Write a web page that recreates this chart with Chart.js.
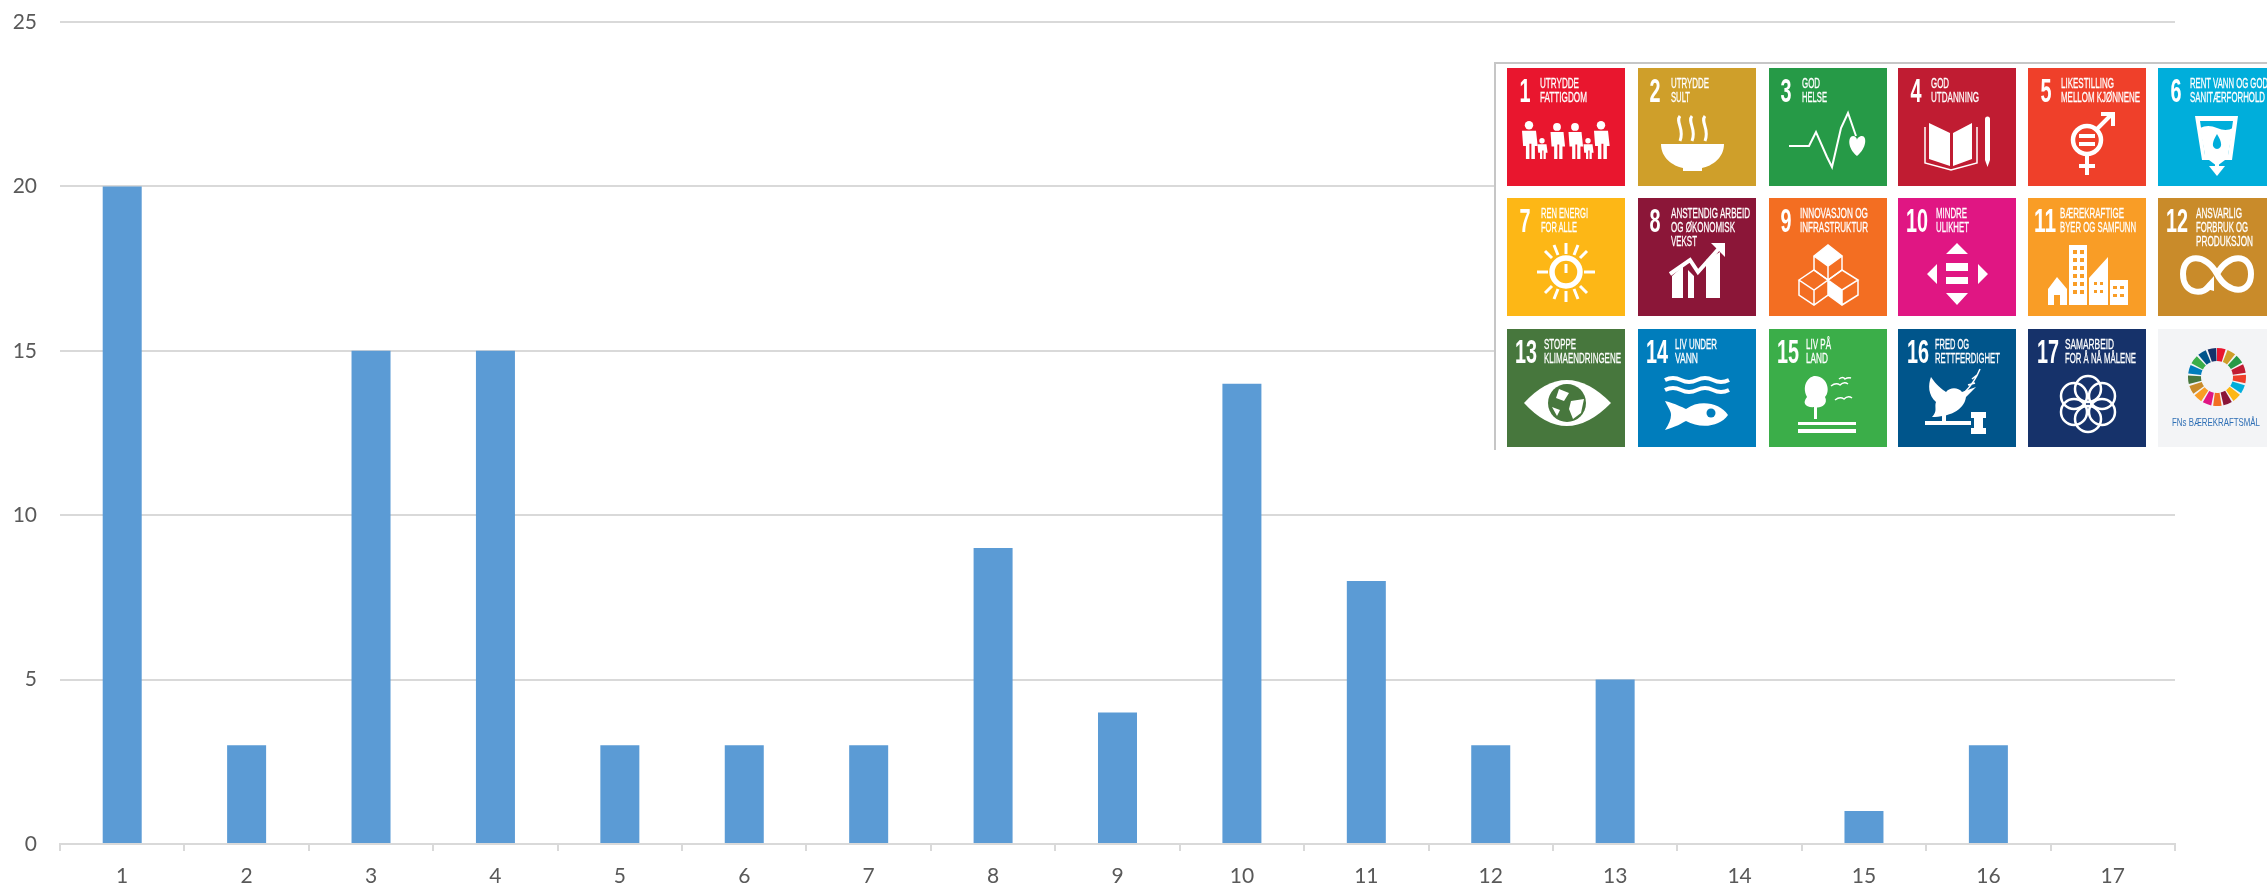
<!DOCTYPE html>
<html>
<head>
<meta charset="UTF-8">
<title>Bærekraftsmål</title>
<script src="https://cdn.jsdelivr.net/npm/chart.js"></script>
<style>
    html, body { margin: 0; padding: 0; background: #fff; overflow: hidden; }
    #wrap { position: relative; width: 2267px; height: 886px; }
    #inset { position: absolute; left: 0; top: 0; }
    #inset text { font-family: 'Liberation Sans Narrow', 'Liberation Sans', sans-serif; fill: #fff; }
</style>
</head>
<body>
<div id="wrap">
    <canvas id="goalsChart" width="2267" height="886"></canvas>
    <svg id="inset" width="2267" height="886" xmlns="http://www.w3.org/2000/svg"></svg>
</div>

<script>
    const categories = ['1', '2', '3', '4', '5', '6', '7', '8', '9', '10', '11', '12', '13', '14', '15', '16', '17'];
    const counts = [20, 3, 15, 15, 3, 3, 3, 9, 4, 14, 8, 3, 5, 0, 1, 3, 0];
    const yTicks = [0, 5, 10, 15, 20, 25];

    // tiles in the picture pasted over the chart
    const tileTitles = [
        ['UTRYDDE', 'FATTIGDOM'], ['UTRYDDE', 'SULT'], ['GOD', 'HELSE'], ['GOD', 'UTDANNING'],
        ['LIKESTILLING', 'MELLOM KJØNNENE'], ['RENT VANN OG GOD', 'SANITÆRFORHOLD'],
        ['REN ENERGI', 'FOR ALLE'], ['ANSTENDIG ARBEID', 'OG ØKONOMISK', 'VEKST'], ['INNOVASJON OG', 'INFRASTRUKTUR'],
        ['MINDRE', 'ULIKHET'], ['BÆREKRAFTIGE', 'BYER OG SAMFUNN'], ['ANSVARLIG', 'FORBRUK OG', 'PRODUKSJON'],
        ['STOPPE', 'KLIMAENDRINGENE'], ['LIV UNDER', 'VANN'], ['LIV PÅ', 'LAND'],
        ['FRED OG', 'RETTFERDIGHET'], ['SAMARBEID', 'FOR Å NÅ MÅLENE']
    ];
    const tileColors = ['#e9192d', '#cf9f2a', '#279a47', '#c01c30', '#ef3f29', '#05aedb', '#fdb713', '#8b1538', '#f36e24',
        '#e01483', '#f99d26', '#c98b2a', '#47773c', '#047dbc', '#3bae49', '#05558b', '#16336a'];
    const numberX = [18, 17, 17, 18, 18, 18, 18, 17, 17, 19, 17, 19, 19, 19, 19, 20, 20];
    const titleX = [33, 33, 33, 33, 33, 32, 34, 33, 31, 38, 32, 38, 37, 37, 37, 37, 37];
    const titleWidths = [[39, 47], [38, 19], [18, 25], [18, 48], [53, 79], [78, 75], [47, 36], [79, 64, 26], [68, 68],
        [31, 33], [64, 76], [46, 52, 57], [32, 77], [42, 23], [25, 22], [34, 65], [49, 71]];
    const colLefts = [1507, 1638, 1769, 1898, 2028, 2158];
    const rowTops = [68, 198, 329];

    const person = (x, top, h, w) => `<circle cx="${x}" cy="${top + w * 0.3}" r="${w * 0.3}"/>` +
        `<path d="M${x - w / 2} ${top + w * 0.7} h${w} l${w * 0.12} ${h * 0.4} h${-w * 0.2} v${h * 0.6 - w * 0.7} h${-w * 0.25} v${-h * 0.4} h${-w * 0.14} v${h * 0.4} h${-w * 0.25} v${-h * 0.6 + w * 0.7} h${-w * 0.2}z"/>`;
    const line = 'fill="none" stroke="#fff"';

    const tileIcons = [
        person(22, 53, 38, 14) + person(35, 70, 21, 9) + person(50, 55, 36, 13) + person(68, 55, 36, 13) + person(81, 70, 21, 9) + person(94, 53, 38, 14),
        `<path d="M23 76H86C86 90 74 98 64 100V103H45V100C35 98 23 90 23 76Z"/><path d="M42 48c-5 6 5 13 0 25M54 48c-5 6 5 13 0 25M67 48c-5 6 5 13 0 25" ${line} stroke-width="3"/>`,
        `<path d="M20 78H40L47 64L58 89L63 99L72 60L79 45L87 68" ${line} stroke-width="2"/><path d="M88 88C78 80 79 68 84 68C86 68 88 70 88 72C88 70 91 68 93 68C98 68 98 80 88 88Z"/>`,
        `<path d="M31 55L52 65V98L31 91ZM74 55L55 65V98L74 91Z"/><path d="M27 59V95L53 102L79 95V59" ${line} stroke-width="1.500"/><path d="M87 51a2.500 2.500 0 0 1 5 0V92L89.500 99L87 92Z"/>`,
        `<circle cx="59" cy="72" r="14" ${line} stroke-width="4.500"/><path d="M51 66H67V70H51ZM51 74H67V78H51Z"/><path d="M59 86V107M51 98H67M69 61L84 46M73 46H85V58" ${line} stroke-width="4"/>`,
        `<path d="M37 48H80L74 92H67L59 98L51 92H44ZM42 53L47 87H70L75 53Z"/><path d="M42 60Q50 56 59 60T75 60L70 87H47Z"/><path d="M59 66C54 74 53 80 59 81C65 80 64 74 59 66Z" fill="#05aedb"/><path d="M59 90V100" ${line} stroke-width="4"/><path d="M51 98H67L59 108Z"/>`,
        `<circle cx="59" cy="74" r="14" ${line} stroke-width="5.500"/><path d="M59 66V75" ${line} stroke-width="3"/><path d="M59 45V56M59 93V104M30 74H41M77 74H88M38 53L45 60M73 88L80 95M38 95L45 88M73 60L80 53M47 47L51 57M67 91L71 101M71 47L67 57M51 91L47 101" ${line} stroke-width="3"/>`,
        `<path d="M34 100V78L45 68V100ZM50 100V72L56 78V100ZM68 100V62L82 54V100Z"/><path d="M32 76L52 62L60 74L84 47" ${line} stroke-width="4"/><path d="M73 45H87V59Z"/>`,
        `<g ${line} stroke-width="1.500"><path d="M45 58L59 47L73 58L59 68ZM45 58V72L59 82L73 72V58M59 68V82"/><path d="M30 82L45 72L59 82L45 92ZM30 82V97L45 107L59 97V82M45 92V107"/><path d="M59 82L73 72L89 82L73 92ZM59 97L73 107L89 97V82M73 92V107"/></g><path d="M45 58L59 47L73 58L59 68ZM59 82L73 92V107L59 97Z"/>`,
        `<path d="M59 45L70 56H48ZM59 107L70 95H48ZM29 76L39 66V86ZM90 76L80 66V86ZM48 65H70V73H48ZM48 79H70V86H48Z"/>`,
        `<path d="M41 47H59V107H41ZM20 91L29 79L39 91V107H20ZM61 107V80L80 59V107ZM82 82H100V107H82Z"/><path fill="#f99d26" d="M45 52h4v4h-4zM52 52h4v4h-4zM45 60h4v4h-4zM52 60h4v4h-4zM45 68h4v4h-4zM52 68h4v4h-4zM45 76h4v4h-4zM52 76h4v4h-4zM45 84h4v4h-4zM52 84h4v4h-4zM45 92h4v4h-4zM52 92h4v4h-4zM26 97h6v10h-6zM66 84h3v3h-3zM72 84h3v3h-3zM66 92h3v3h-3zM72 92h3v3h-3zM85 88h4v3h-4zM92 88h4v3h-4zM85 96h4v3h-4zM92 96h4v3h-4z"/>`,
        `<path d="M59 76C48 55 25 55 25 76C25 97 47 98 53 86M59 76C70 55 93 55 93 76C93 97 70 97 59 76" ${line} stroke-width="6"/><path d="M45 90L56 78V93Z"/>`,
        `<path d="M17 74Q59 28 104 74Q59 120 17 74Z"/><circle cx="60" cy="74" r="19" fill="#47773c"/><path d="M52 60L62 64L57 72L49 69ZM64 72L77 70L74 84L66 90L62 80ZM45 78L53 81L50 87Z"/>`,
        `<path d="M27 51q8 -4 16 0t16 0t16 0t16 0M27 61q8 -4 16 0t16 0t16 0t16 0" ${line} stroke-width="4"/><path d="M27 72C31 80 33 82 33 86C33 90 31 95 27 101C38 98 44 94 48 92C62 100 82 98 90 86C82 74 62 70 48 80C44 78 38 75 27 72Z"/><circle cx="73" cy="84" r="4.500" fill="#047dbc"/>`,
        `<path d="M38 68C32 56 40 47 46 47C58 47 62 62 56 68C60 76 50 80 46 78C36 79 33 74 38 68Z"/><path d="M45 76H48V90H45ZM29 93H87V96H29ZM29 100H87V104H29Z"/><path d="M62 57q5 -4 9 -1q4 -4 8 -1M70 50q4 -3 6 0q3 -2 6 -1M66 71q5 -4 9 -1q4 -4 8 -1" ${line} stroke-width="1.500"/>`,
        `<path d="M33 48C38 56 45 61 48 63C52 58 60 58 64 63L78 58L68 68C66 82 50 88 34 88C40 82 36 78 38 73C30 66 30 56 33 48Z"/><path d="M66 64C72 58 78 50 82 40M74 50l5 -4M70 56l7 -2" ${line} stroke-width="1.500"/><path d="M27 92H73V96H27ZM73 83H88V89H73ZM73 99H88V105H73ZM76 89H85V99H76ZM44 86H48V92H44Z"/>`,
        `<g ${line} stroke-width="2.500"><circle cx="60" cy="60" r="13"/><circle cx="60" cy="90" r="13"/><circle cx="46" cy="67" r="13"/><circle cx="74" cy="67" r="13"/><circle cx="46" cy="83" r="13"/><circle cx="74" cy="83" r="13"/></g>`
    ];

    function buildTiles() {
        const out = [];
        out.push('<defs><filter id="soft"><feGaussianBlur stdDeviation="0.4"/></filter></defs>');
        out.push('<rect x="1494" y="62" width="773" height="388" fill="#fff"/>');
        out.push('<path d="M2267 63H1495V450" fill="none" stroke="#c6c6c6" stroke-width="2"/>');
        out.push('<g filter="url(#soft)">');
        tileTitles.forEach((lines, i) => {
            const x = colLefts[i % 6];
            const y = rowTops[Math.floor(i / 6)];
            let g = `<g transform="translate(${x} ${y})" fill="#fff"><rect width="118" height="118" fill="${tileColors[i]}"/>`;
            const num = String(i + 1);
            g += `<text x="${numberX[i]}" y="34" text-anchor="middle" font-size="33" font-weight="bold" textLength="${num.length > 1 ? 22 : 11}" lengthAdjust="spacingAndGlyphs">${num}</text>`;
            lines.forEach((t, k) => {
                g += `<text x="${titleX[i]}" y="${20 + k * 14}" font-size="14.5" stroke="#fff" stroke-width="0.3" textLength="${titleWidths[i][k]}" lengthAdjust="spacingAndGlyphs">${t}</text>`;
            });
            g += tileIcons[i] + '</g>';
            out.push(g);
        });
        // last tile: the goals wheel, same 17 colours
        let wheel = `<g transform="translate(${colLefts[5]} ${rowTops[2]})"><rect width="118" height="118" fill="#f3f4f6"/>`;
        const r = 22.5, c = 2 * Math.PI * r, seg = c / tileColors.length;
        tileColors.forEach((col, i) => {
            wheel += `<circle cx="59" cy="48" r="${r}" fill="none" stroke="${col}" stroke-width="13" stroke-dasharray="${seg - 1.5} ${c - seg + 1.5}" stroke-dashoffset="${-i * seg}" transform="rotate(-90 59 48)"/>`;
        });
        wheel += `<text x="14" y="97" font-size="11" style="fill:#2f6fb5" textLength="88" lengthAdjust="spacingAndGlyphs">FNs BÆREKRAFTSMÅL</text></g>`;
        out.push(wheel);
        out.push('</g>');
        document.getElementById('inset').innerHTML = out.join('');
    }

    const tickFont = { family: 'Lato, Carlito, sans-serif', size: 21 };

    new Chart(document.getElementById('goalsChart').getContext('2d'), {
        type: 'bar',
        data: {
            labels: categories,
            datasets: [{
                data: counts,
                backgroundColor: '#5b9bd5',
                borderWidth: 0,
                categoryPercentage: 1,
                barPercentage: 0.3135
            }]
        },
        options: {
            responsive: false,
            animation: false,
            layout: { padding: { top: 22, right: 92, left: 0, bottom: 0 } },
            plugins: { legend: { display: false }, tooltip: { enabled: false } },
            scales: {
                x: {
                    afterFit: scale => { scale.height = 42; },
                    grid: { drawOnChartArea: false, drawTicks: true, tickLength: 7, color: '#d9d9d9', lineWidth: 2 },
                    border: { color: '#d9d9d9', width: 2 },
                    ticks: { color: '#595959', font: tickFont, padding: 13, maxRotation: 0 }
                },
                y: {
                    min: 0,
                    max: 25,
                    afterFit: scale => { scale.width = 60; scale.paddingTop = 0; scale.paddingBottom = 0; },
                    afterBuildTicks: scale => { scale.ticks = yTicks.map(v => ({ value: v })); },
                    grid: { color: '#d9d9d9', lineWidth: 2, drawTicks: false },
                    border: { display: false },
                    ticks: { color: '#595959', font: tickFont, padding: 23 }
                }
            }
        }
    });

    buildTiles();
</script>
</body>
</html>
